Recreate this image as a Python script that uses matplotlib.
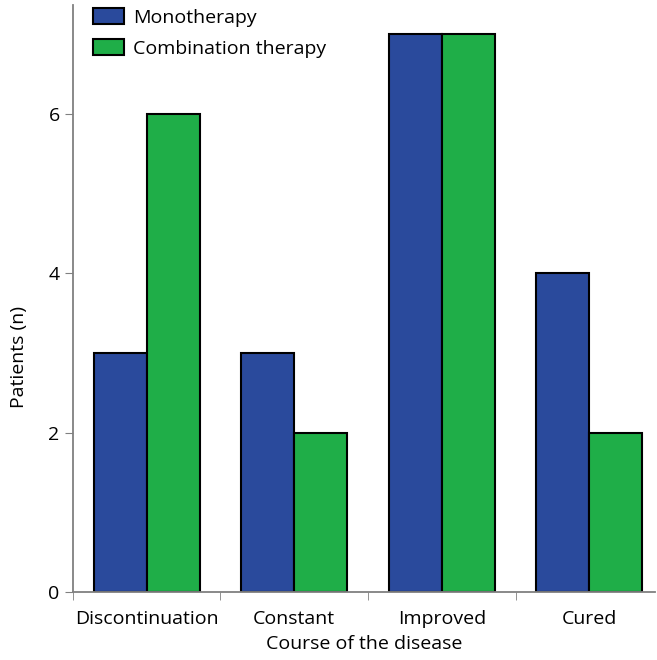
import numpy as np
import matplotlib.pyplot as plt

CATEGORIES = ["Discontinuation", "Constant", "Improved", "Cured"]
MONO = [3, 3, 7, 4]
COMBO = [6, 2, 7, 2]
SERIES = ["Monotherapy", "Combination therapy"]

BLUE = "#2a4a9c"; GREEN = "#1fae48"; SPINE = "#808080"

plt.rcParams["font.family"] = ["Open Sans", "DejaVu Sans"]

fig = plt.figure(figsize=(6.57, 6.60), dpi=100)
ax = fig.add_axes([0.111, 0.103, 0.886, 0.889])

x = np.arange(len(CATEGORIES)); w = 0.36
ax.bar(x - w/2, MONO, w, color=BLUE, edgecolor="black", linewidth=1.5, label=SERIES[0])
ax.bar(x + w/2, COMBO, w, color=GREEN, edgecolor="black", linewidth=1.5, label=SERIES[1])

ax.set_xlim(-0.5, 3.445)
ax.set_ylim(0, 7.36)
ax.set_xticks(x)
ax.set_xticklabels(CATEGORIES, fontsize=14)
ax.set_xticks(np.arange(len(CATEGORIES)) - 0.5, minor=True)
ax.tick_params(axis="x", which="major", length=0, pad=13)
ax.tick_params(axis="x", which="minor", length=6, color=SPINE)
ax.set_yticks([0, 2, 4, 6])
ax.tick_params(axis="y", labelsize=14, length=6, color=SPINE)
for s in ("top", "right"):
    ax.spines[s].set_visible(False)
for s in ("left", "bottom"):
    ax.spines[s].set_color(SPINE)
    ax.spines[s].set_linewidth(1.3)

ax.set_xlabel("Course of the disease", fontsize=14, labelpad=5)
ax.set_ylabel("Patients (n)", fontsize=14)
ax.yaxis.set_label_coords(-0.078, 0.40)
ax.legend(loc="upper left", bbox_to_anchor=(0.021, 1.008), frameon=False, fontsize=14,
          handlelength=1.6, handleheight=0.85, handletextpad=0.45, labelspacing=0.65,
          borderaxespad=0)

fig.savefig("out.png", dpi=100)
